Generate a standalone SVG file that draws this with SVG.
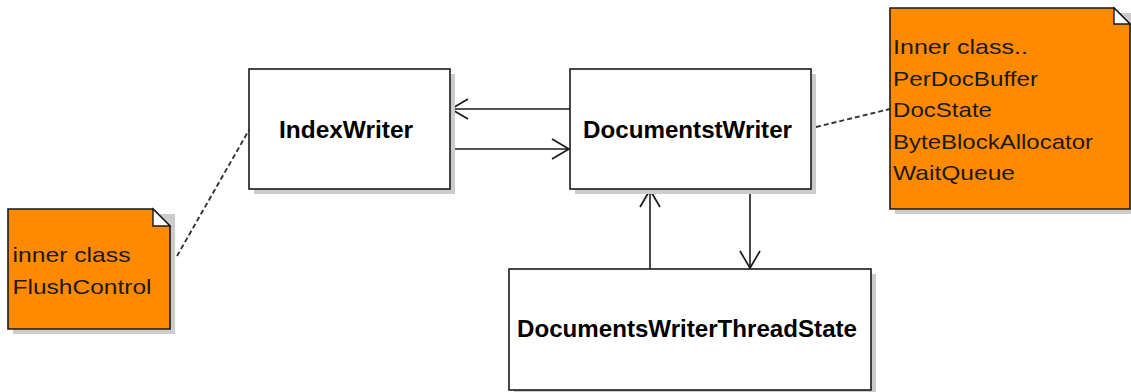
<svg xmlns="http://www.w3.org/2000/svg" width="1131" height="392" viewBox="0 0 1131 392">
<style>
.shadow{fill:#cccccc;}
.box{fill:#ffffff;stroke:#1a1a1a;stroke-width:1.6;}
.note{fill:#ff8a00;stroke:#1a1a1a;stroke-width:1.6;}
.fold{fill:#ffffff;stroke:#1a1a1a;stroke-width:1.4;}
.title{font-family:"Liberation Sans",Arial,sans-serif;font-weight:bold;font-size:24px;fill:#000;}
.ntext{font-family:"Liberation Sans",Arial,sans-serif;font-size:21px;fill:#1a1a1a;}
.edge{fill:none;stroke:#1a1a1a;stroke-width:1.6;}
.dash{fill:none;stroke:#333333;stroke-width:1.9;stroke-dasharray:5 3;}
</style>
<defs>
<marker id="open" markerUnits="userSpaceOnUse" markerWidth="24" markerHeight="24" viewBox="-20 -12 24 24" refX="0" refY="0" orient="auto">
<path d="M-17,-10 L0,0 L-17,10" fill="none" stroke="#1a1a1a" stroke-width="1.7"/>
</marker>
</defs>
<g id="connectors">
<line class="edge" x1="570" y1="109" x2="451" y2="109" marker-end="url(#open)"/>
<line class="edge" x1="450" y1="149" x2="569" y2="149" marker-end="url(#open)"/>
<line class="edge" x1="650" y1="269" x2="650" y2="190" marker-end="url(#open)"/>
<line class="edge" x1="750" y1="189" x2="750" y2="268" marker-end="url(#open)"/>
<line class="dash" x1="177" y1="256" x2="249" y2="130"/>
<line class="dash" x1="816" y1="127" x2="890" y2="109"/>
</g>
<g id="IndexWriter">
<rect class="shadow" x="254" y="74" width="201" height="120"/>
<rect class="box" x="249" y="69" width="201" height="120"/>
<text class="title" x="279" y="138" textLength="134" lengthAdjust="spacingAndGlyphs">IndexWriter</text>
</g>
<g id="DocumentstWriter">
<rect class="shadow" x="575" y="74" width="241" height="120"/>
<rect class="box" x="570" y="69" width="241" height="120"/>
<text class="title" x="583" y="138" textLength="209" lengthAdjust="spacingAndGlyphs">DocumentstWriter</text>
</g>
<g id="DocumentsWriterThreadState">
<rect class="shadow" x="514" y="274" width="362" height="121"/>
<rect class="box" x="509" y="269" width="362" height="121"/>
<text class="title" x="517" y="337" textLength="340" lengthAdjust="spacingAndGlyphs">DocumentsWriterThreadState</text>
</g>
<g id="note-flushcontrol">
<rect class="shadow" x="13" y="214" width="162" height="120"/>
<path class="note" d="M8,209 L153,209 L170,226 L170,329 L8,329 Z"/>
<path class="fold" d="M153,209 L153,226 L170,226 Z"/>
<text class="ntext" x="12.5" y="262" textLength="118" lengthAdjust="spacingAndGlyphs">inner class</text>
<text class="ntext" x="12.5" y="293.5" textLength="139" lengthAdjust="spacingAndGlyphs">FlushControl</text>
</g>
<g id="note-innerclasses">
<rect class="shadow" x="895" y="13" width="240" height="201"/>
<path class="note" d="M890,8 L1114,8 L1130,24 L1130,209 L890,209 Z"/>
<path class="fold" d="M1114,8 L1114,24 L1130,24 Z"/>
<text class="ntext" x="893" y="54" textLength="135" lengthAdjust="spacingAndGlyphs">Inner class..</text>
<text class="ntext" x="893" y="85.5" textLength="145" lengthAdjust="spacingAndGlyphs">PerDocBuffer</text>
<text class="ntext" x="893" y="117" textLength="99" lengthAdjust="spacingAndGlyphs">DocState</text>
<text class="ntext" x="893" y="148.5" textLength="200" lengthAdjust="spacingAndGlyphs">ByteBlockAllocator</text>
<text class="ntext" x="893" y="180" textLength="122" lengthAdjust="spacingAndGlyphs">WaitQueue</text>
</g>
</svg>
